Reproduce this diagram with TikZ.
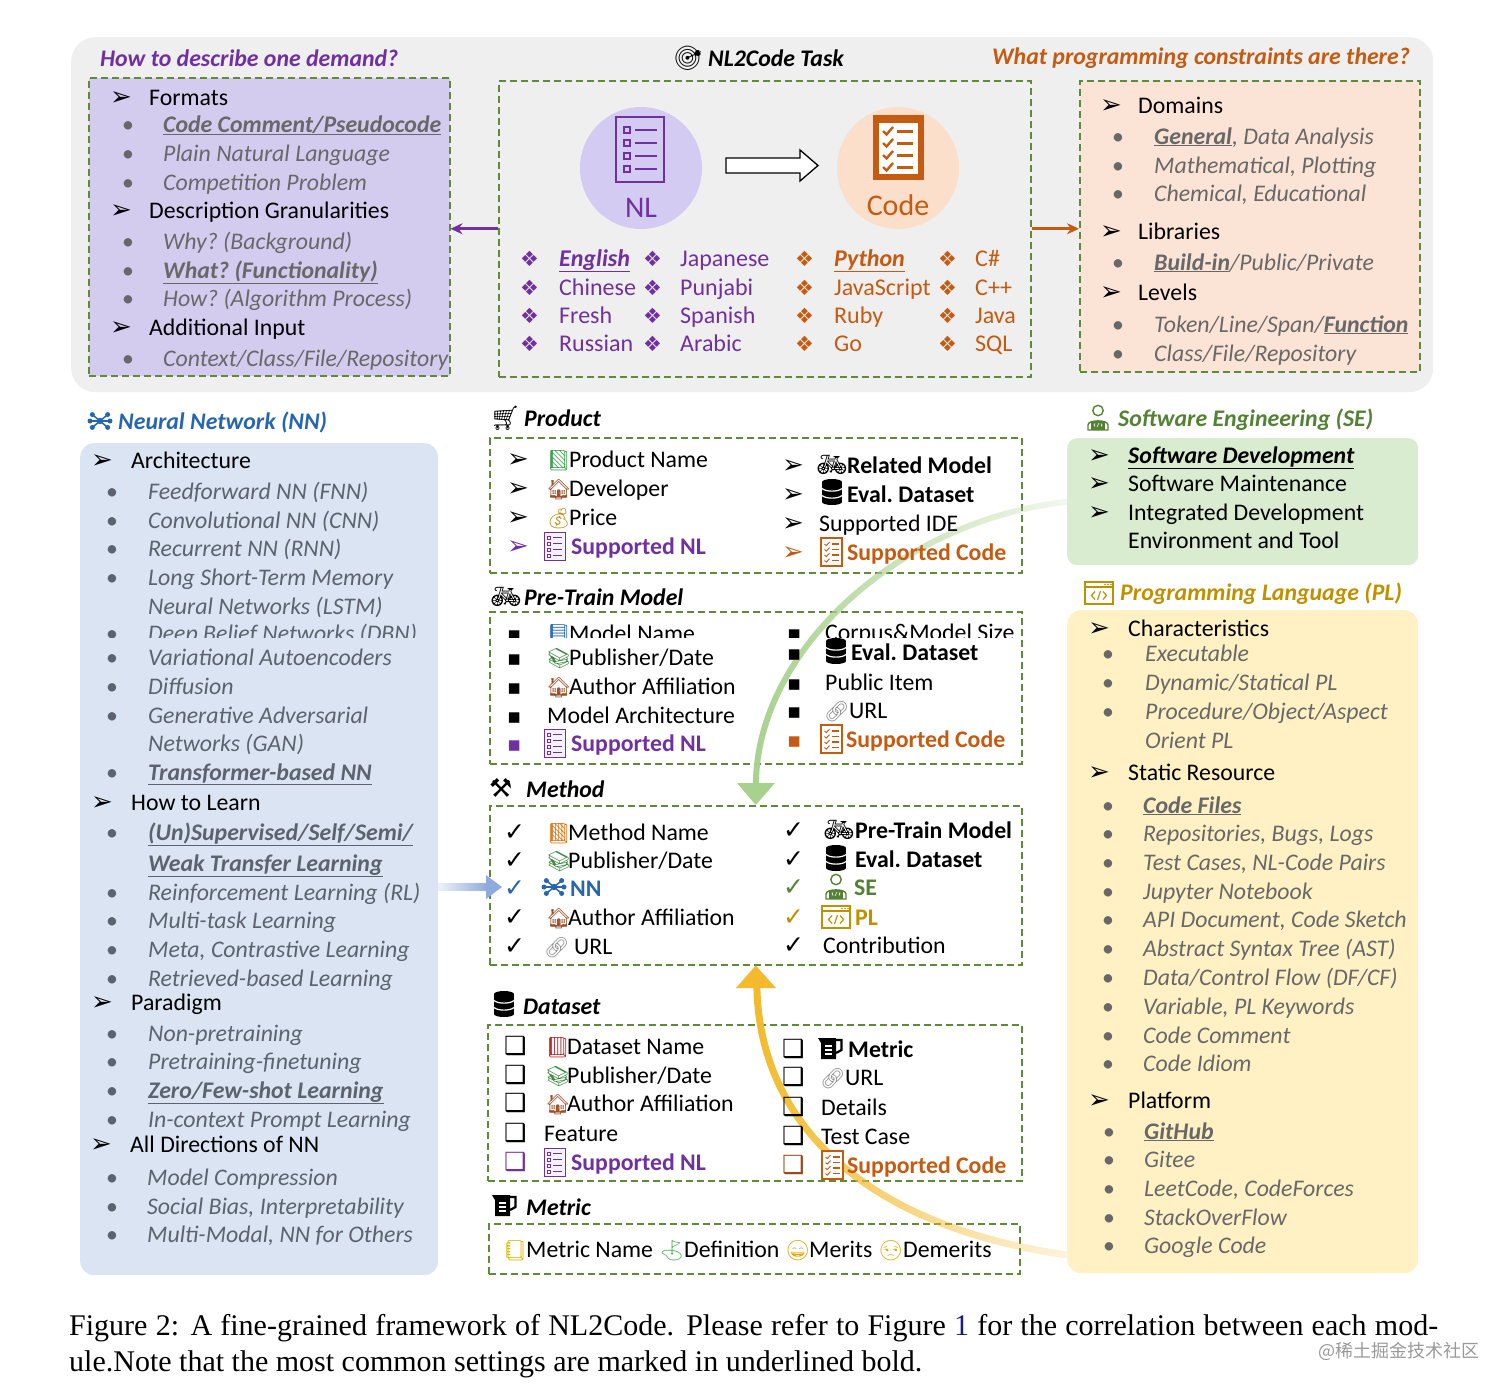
\documentclass[tikz,border=0pt]{standalone}
\usepackage{fontspec}
\setmainfont{Carlito}
\newfontfamily\dejavu{DejaVu Sans}
\newfontfamily\emo{Noto Emoji}
\newfontfamily\timesf{Liberation Serif}
\newfontfamily\cjk{Noto Sans CJK SC}
\usetikzlibrary{fadings,arrows.meta,calc}
\frenchspacing
\definecolor{bggray}{HTML}{EFEFEF}
\definecolor{purfill}{HTML}{D3CCEF}
\definecolor{orfill}{HTML}{FBE4D5}
\definecolor{nlcirc}{HTML}{D4CBF3}
\definecolor{codecirc}{HTML}{FCDFCA}
\definecolor{nnfill}{HTML}{DAE4F2}
\definecolor{sefill}{HTML}{DAECD0}
\definecolor{plfill}{HTML}{FFF1C4}
\definecolor{dashgreen}{HTML}{5E8A3A}
\definecolor{purp}{HTML}{7030A0}
\definecolor{orng}{HTML}{C55A11}
\definecolor{brownbox}{HTML}{9C4A1A}
\definecolor{nnblue}{HTML}{2566AE}
\definecolor{segreen}{HTML}{548235}
\definecolor{plgold}{HTML}{BF9000}
\definecolor{itemgray}{HTML}{686868}
\definecolor{nngray}{HTML}{5C636E}
\definecolor{arrgreen}{HTML}{A9D18E}
\definecolor{arrgold}{HTML}{F2BA2C}
\definecolor{arrblue}{HTML}{8FAADC}
\definecolor{capblue}{HTML}{1A1A80}
\definecolor{bookgreen}{HTML}{3FA34D}
\definecolor{house}{HTML}{A0522D}
\definecolor{money}{HTML}{B8901A}
\definecolor{bookblue}{HTML}{2F6DB5}
\definecolor{books}{HTML}{3D8B40}
\definecolor{bookorange}{HTML}{E07B20}
\definecolor{linkgray}{HTML}{8A8A8A}
\definecolor{bookred}{HTML}{C0282D}
\definecolor{notey}{HTML}{D9B800}
\definecolor{flag}{HTML}{4CAF50}
\definecolor{smiley}{HTML}{E0A800}
\newcommand\fs[1]{\fontsize{#1}{#1}\selectfont}
\newcommand\ub[1]{\underline{\textbf{#1}}}
\newcounter{nd}
\newcommand\Txt[4][tx]{\stepcounter{nd}\node[#1] (n\arabic{nd}) at (#2,#3+8) {#4};}
\tikzfading[name=fadeR, left color=transparent!0, right color=transparent!85]
\tikzfading[name=fadeL, left color=transparent!85, right color=transparent!0]
\tikzset{
  tx/.style={anchor=base west, inner sep=0pt, font=\fs{23.8}},
  it/.style={tx, font=\fs{23.8}\itshape, text=itemgray},
  nit/.style={tx, font=\fs{23.8}\itshape, text=nngray},
  bx/.style={tx, font=\fs{23.8}\bfseries},
  hdr/.style={tx, font=\fs{23.8}\bfseries\itshape},
  lang/.style={tx, font=\fs{24}},
  arr/.style={anchor=base west, inner sep=0pt, font=\dejavu\fs{26}},
  bul/.style={anchor=base west, inner sep=0pt, font=\fs{23.8}, text=itemgray},
  dia/.style={anchor=base west, inner sep=0pt, font=\dejavu\fs{21}},
  sq/.style={anchor=base west, inner sep=0pt, font=\dejavu\fs{21}},
  chk/.style={anchor=base west, inner sep=0pt, font=\dejavu\fs{25}},
  cb/.style={anchor=base west, inner sep=0pt, font=\dejavu\fs{25}},
  emj/.style={anchor=base west, inner sep=0pt, font=\emo\fs{20}},
  dbox/.style={draw=dashgreen, line width=1.5pt, dash pattern=on 7pt off 4pt, anchor=north west, inner sep=0pt},
  fbox/.style={anchor=north west, inner sep=0pt},
  db/.pic={
    \fill (0,3) rectangle (20,23);
    \fill (10,3) ellipse [x radius=10, y radius=3];
    \fill (10,23) ellipse [x radius=10, y radius=3];
    \draw[white,line width=1.2pt] (0,9.5) .. controls (4,13) and (16,13) .. (20,9.5);
    \draw[white,line width=1.2pt] (0,16.5) .. controls (4,20) and (16,20) .. (20,16.5);
  },
  jug/.pic={
    \fill (0,1) -- (18,1) -- (18,22) -- (3,22) -- (3,6) -- cycle;
    \draw[line width=2.2pt] (18,3) -- (23.5,3) -- (23.5,13) -- (18,16);
    \draw[white, line width=1.1pt] (7,9) -- (14,9) (7,13) -- (14,13) (7,17) -- (14,17);
  },
  nnicon/.pic={
    \foreach \a in {0,40,140,180,220,320} {
      \draw[line width=1.5pt] (13,11) -- ++(\a:10);
      \fill (13,11) ++(\a:10) circle (2.5);
    }
    \fill (13,11) circle (3.2);
  },
  seicon/.pic={
    \draw[line width=1.4pt] (12,6.5) circle (5.2);
    \draw[line width=1.4pt] (2,26) -- (2,21) .. controls (2,15.5) and (22,15.5) .. (22,21) -- (22,26) -- cycle;
    \fill (5,16.5) rectangle (19,26);
    \draw[white,line width=0.6pt] (9,19.5) -- (8,21) -- (9,22.5) (11,23) -- (13,19) (15,19.5) -- (16,21) -- (15,22.5);
  },
  plicon/.pic={
    \draw[line width=1.6pt] (0,0) rectangle (28,22);
    \draw[line width=1.2pt] (0,5) -- (28,5);
    \draw[line width=1.2pt] (10,9.5) -- (6.5,13.5) -- (10,17.5) (12.5,18) -- (15.5,9) (18,9.5) -- (21.5,13.5) -- (18,17.5);
    \fill (20,2.5) circle (0.8) (23,2.5) circle (0.8) (26,2.5) circle (0.8);
  },
  nlbig/.pic={
    \draw[line width=2.6pt] (0,0) rectangle (48,65);
    \foreach \yy in {13,26,39,52} {
      \draw[line width=1.8pt] (8,\yy-3) rectangle (14,\yy+3);
      \draw[line width=2.2pt] (19,\yy) -- (41,\yy);
    }
  },
  codebig/.pic={
    \fill (0,0) rectangle (51,65);
    \fill[white] (6,8) rectangle (45,59);
    \foreach \yy in {16,28,40,52} {
      \draw[line width=2.4pt] (10,\yy) -- (13.5,\yy+3.5) -- (20,\yy-4);
      \draw[line width=3pt] (24,\yy) -- (40,\yy);
    }
  },
  nlsm/.pic={
    \draw[line width=0.9pt, fill=white!75!nlcirc] (0,0) rectangle (21,28);
    \foreach \yy in {5.5,11.5,17.5,23.5} {
      \draw[line width=0.7pt] (3.5,\yy-1.5) rectangle (6.5,\yy+1.5);
      \draw[line width=0.8pt] (9,\yy) -- (18,\yy);
    }
  },
  codesm/.pic={
    \draw[line width=1.8pt, fill=white] (0,0) rectangle (21,28);
    \foreach \yy in {6,11.5,17,22.5} {
      \draw[line width=0.9pt] (3.5,\yy) -- (5.3,\yy+1.6) -- (8.5,\yy-1.8);
      \draw[line width=1.1pt] (10.5,\yy) -- (17.5,\yy);
    }
  },
}
\begin{document}
\begin{tikzpicture}[x=1pt,y=-1pt]
\path[use as bounding box] (0,0) rectangle (1512,1393);
% ---------- top panel ----------
\node[fbox, fill=bggray, rounded corners=24pt, minimum width=1362, minimum height=355] (bg) at (71,37) {};
\node[dbox, fill=purfill, minimum width=361, minimum height=298] (fmt) at (88,77) {};
\node[dbox, minimum width=532, minimum height=296] (task) at (498,80) {};
\node[dbox, fill=orfill, minimum width=340, minimum height=291] (cons) at (1079,80) {};
\draw[purp, line width=2.8pt, -{Stealth[length=12pt,width=11pt]}] (task.west) -- (fmt.east |- task.west);
\draw[orng, line width=2.8pt, -{Stealth[length=12pt,width=11pt]}] (task.east) -- (cons.west |- task.east);

\Txt[hdr,text=purp]{100}{58}{How to describe one demand?}
\Txt[emj,font=\emo\fs{24}]{673}{58}{🎯}
\Txt[hdr]{708}{58}{NL2Code Task}
\node[hdr, text=orng, anchor=base east] (hq2) at (1410,64) {What programming constraints are there?};

% formats box
\Txt[arr]{110}{97}{➢}\Txt{149}{97}{Formats}
\Txt[bul]{122}{124}{•}\Txt[it]{163}{124}{\ub{Code Comment/Pseudocode}}
\Txt[bul]{122}{153}{•}\Txt[it]{163}{153}{Plain Natural Language}
\Txt[bul]{122}{182}{•}\Txt[it]{163}{182}{Competition Problem}
\Txt[arr]{110}{210}{➢}\Txt{149}{210}{Description Granularities}
\Txt[bul]{122}{241}{•}\Txt[it]{163}{241}{Why? (Background)}
\Txt[bul]{122}{270}{•}\Txt[it]{163}{270}{\ub{What? (Functionality)}}
\Txt[bul]{122}{298}{•}\Txt[it]{163}{298}{How? (Algorithm Process)}
\Txt[arr]{110}{327}{➢}\Txt{149}{327}{Additional Input}
\Txt[bul]{122}{358}{•}\Txt[it]{163}{358}{Context/Class/File/Repository}

% NL2Code centre
\node[circle, fill=nlcirc, minimum size=122, inner sep=0pt] (nlc) at (641,168) {};
\node[circle, fill=codecirc, minimum size=122, inner sep=0pt] (codec) at (898,168) {};
\pic[color=purp] at (616,117) {nlbig};
\pic[color=orng] at (873,115) {codebig};
\node[anchor=base, inner sep=0pt, font=\fs{30}, text=purp] (nlt) at (641,217) {NL};
\node[anchor=base, inner sep=0pt, font=\fs{30}, text=orng] (codet) at (898,215) {Code};
\draw[line width=1.3pt, fill=white] (726,158) -- (800,158) -- (800,150) -- (818,165.5) -- (800,181) -- (800,173) -- (726,173) -- cycle;

\Txt[dia,text=purp]{520}{258}{❖}\Txt[lang,text=purp]{559}{258}{\underline{\textbf{\textit{English}}}}
\Txt[dia,text=purp]{520}{287}{❖}\Txt[lang,text=purp]{559}{287}{Chinese}
\Txt[dia,text=purp]{520}{315}{❖}\Txt[lang,text=purp]{559}{315}{Fresh}
\Txt[dia,text=purp]{520}{343}{❖}\Txt[lang,text=purp]{559}{343}{Russian}
\Txt[dia,text=purp]{643}{258}{❖}\Txt[lang,text=purp]{680}{258}{Japanese}
\Txt[dia,text=purp]{643}{287}{❖}\Txt[lang,text=purp]{680}{287}{Punjabi}
\Txt[dia,text=purp]{643}{315}{❖}\Txt[lang,text=purp]{680}{315}{Spanish}
\Txt[dia,text=purp]{643}{343}{❖}\Txt[lang,text=purp]{680}{343}{Arabic}
\Txt[dia,text=orng]{795}{258}{❖}\Txt[lang,text=orng]{834}{258}{\underline{\textbf{\textit{Python}}}}
\Txt[dia,text=orng]{795}{287}{❖}\Txt[lang,text=orng]{834}{287}{JavaScript}
\Txt[dia,text=orng]{795}{315}{❖}\Txt[lang,text=orng]{834}{315}{Ruby}
\Txt[dia,text=orng]{795}{343}{❖}\Txt[lang,text=orng]{834}{343}{Go}
\Txt[dia,text=orng]{938}{258}{❖}\Txt[lang,text=orng]{975}{258}{C\#}
\Txt[dia,text=orng]{938}{287}{❖}\Txt[lang,text=orng]{975}{287}{C++}
\Txt[dia,text=orng]{938}{315}{❖}\Txt[lang,text=orng]{975}{315}{Java}
\Txt[dia,text=orng]{938}{343}{❖}\Txt[lang,text=orng]{975}{343}{SQL}

% constraints box
\Txt[arr]{1100}{105}{➢}\Txt{1138}{105}{Domains}
\Txt[bul]{1112}{136}{•}\Txt[it]{1154}{136}{\ub{General}, Data Analysis}
\Txt[bul]{1112}{165}{•}\Txt[it]{1154}{165}{Mathematical, Plotting}
\Txt[bul]{1112}{193}{•}\Txt[it]{1154}{193}{Chemical, Educational}
\Txt[arr]{1100}{231}{➢}\Txt{1138}{231}{Libraries}
\Txt[bul]{1112}{262}{•}\Txt[it]{1154}{262}{\ub{Build-in}/Public/Private}
\Txt[arr]{1100}{292}{➢}\Txt{1138}{292}{Levels}
\Txt[bul]{1112}{324}{•}\Txt[it]{1154}{324}{Token/Line/Span/\ub{Function}}
\Txt[bul]{1112}{353}{•}\Txt[it]{1154}{353}{Class/File/Repository}

% ---------- side boxes ----------
\node[fbox, fill=nnfill, rounded corners=14pt, minimum width=358, minimum height=832] (nn) at (80,443) {};
\node[fbox, fill=sefill, rounded corners=10pt, minimum width=351, minimum height=127] (se) at (1067,438) {};
\node[fbox, fill=plfill, rounded corners=14pt, minimum width=351, minimum height=663] (pl) at (1067,610) {};

% ---------- middle boxes ----------
\node[dbox, minimum width=532, minimum height=135] (prod) at (489,437) {};
\node[dbox, minimum width=532, minimum height=152] (ptm) at (489,611) {};
\node[dbox, minimum width=532, minimum height=159] (meth) at (489,805) {};
\node[dbox, minimum width=534, minimum height=156] (dset) at (487,1024) {};
\node[dbox, minimum width=531, minimum height=50] (metr) at (488,1223) {};

% ---------- connectors ----------
\coordinate (gE) at (756,784);
\coordinate (yS) at (1067,1255);
\coordinate (yE) at (757,988);
\draw[arrgreen, line width=6pt, path fading=fadeR] (se.west) .. controls (900,520) and (757,650) .. (gE);
\fill[arrgreen] (737,783) -- (775,783) -- (meth.north) -- cycle;
\draw[arrgold, line width=7pt, path fading=fadeR] (yS) .. controls (860,1225) and (760,1120) .. (yE);
\fill[arrgold] (736,988) -- (776,988) -- (meth.south) -- cycle;
\coordinate (bS) at (438,887);
\coordinate (bE) at (488,887);
\fill[arrblue, path fading=fadeL] ($(bS)+(0,-4)$) rectangle ($(bE)+(0,4)$);
\fill[arrblue] (486,875) -- (502,887) -- (486,899) -- cycle;

% ---------- NN ----------
\pic[color=nnblue] at (87,410) {nnicon};
\Txt[hdr,text=nnblue]{118}{421}{Neural Network (NN)}
\Txt[arr]{91}{460}{➢}\Txt{131}{460}{Architecture}
\Txt[bul,text=nngray]{106}{491}{•}\Txt[nit]{148}{491}{Feedforward NN (FNN)}
\Txt[bul,text=nngray]{106}{520}{•}\Txt[nit]{148}{520}{Convolutional NN (CNN)}
\Txt[bul,text=nngray]{106}{548}{•}\Txt[nit]{148}{548}{Recurrent NN (RNN)}
\Txt[bul,text=nngray]{106}{577}{•}\Txt[nit]{148}{577}{Long Short-Term Memory}
\Txt[nit]{148}{606}{Neural Networks (LSTM)}
\begin{scope}
\clip (95,615) rectangle (440,637);
\Txt[bul,text=nngray]{106}{633}{•}\Txt[nit]{148}{633}{Deep Belief Networks (DBN)}
\end{scope}
\Txt[bul,text=nngray]{106}{657}{•}\Txt[nit]{148}{657}{Variational Autoencoders}
\Txt[bul,text=nngray]{106}{686}{•}\Txt[nit]{148}{686}{Diffusion}
\Txt[bul,text=nngray]{106}{715}{•}\Txt[nit]{148}{715}{Generative Adversarial}
\Txt[nit]{148}{743}{Networks (GAN)}
\Txt[bul,text=nngray]{106}{772}{•}\Txt[nit]{148}{772}{\ub{Transformer-based NN}}
\Txt[arr]{91}{802}{➢}\Txt{131}{802}{How to Learn}
\Txt[bul,text=nngray]{106}{832}{•}\Txt[nit]{148}{832}{\ub{(Un)Supervised/Self/Semi/}}
\Txt[nit]{148}{863}{\ub{Weak Transfer Learning}}
\Txt[bul,text=nngray]{106}{892}{•}\Txt[nit]{148}{892}{Reinforcement Learning (RL)}
\Txt[bul,text=nngray]{106}{920}{•}\Txt[nit]{148}{920}{Multi-task Learning}
\Txt[bul,text=nngray]{106}{949}{•}\Txt[nit]{148}{949}{Meta, Contrastive Learning}
\Txt[bul,text=nngray]{106}{978}{•}\Txt[nit]{148}{978}{Retrieved-based Learning}
\Txt[arr]{91}{1002}{➢}\Txt{131}{1002}{Paradigm}
\Txt[bul,text=nngray]{106}{1033}{•}\Txt[nit]{148}{1033}{Non-pretraining}
\Txt[bul,text=nngray]{106}{1061}{•}\Txt[nit]{148}{1061}{Pretraining-finetuning}
\Txt[bul,text=nngray]{106}{1090}{•}\Txt[nit]{148}{1090}{\ub{Zero/Few-shot Learning}}
\Txt[bul,text=nngray]{106}{1119}{•}\Txt[nit]{148}{1119}{In-context Prompt Learning}
\Txt[arr]{90}{1144}{➢}\Txt{130}{1144}{All Directions of NN}
\Txt[bul,text=nngray]{106}{1177}{•}\Txt[nit]{147}{1177}{Model Compression}
\Txt[bul,text=nngray]{106}{1206}{•}\Txt[nit]{147}{1206}{Social Bias, Interpretability}
\Txt[bul,text=nngray]{106}{1234}{•}\Txt[nit]{147}{1234}{Multi-Modal, NN for Others}

% ---------- SE ----------
\pic[color=segreen] at (1086,404) {seicon};
\Txt[hdr,text=segreen]{1118}{418}{Software Engineering (SE)}
\Txt[arr]{1088}{455}{➢}\Txt[hdr]{1128}{455}{\underline{Software Development}}
\Txt[arr]{1088}{483}{➢}\Txt{1128}{483}{Software Maintenance}
\Txt[arr]{1088}{512}{➢}\Txt{1128}{512}{Integrated Development}
\Txt{1128}{540}{Environment and Tool}

% ---------- PL ----------
\pic[color=plgold] at (1085,582) {plicon};
\Txt[hdr,text=plgold]{1120}{592}{Programming Language (PL)}
\Txt[arr]{1088}{628}{➢}\Txt{1128}{628}{Characteristics}
\Txt[bul]{1102}{653}{•}\Txt[it]{1145}{653}{Executable}
\Txt[bul]{1102}{682}{•}\Txt[it]{1145}{682}{Dynamic/Statical PL}
\Txt[bul]{1102}{711}{•}\Txt[it]{1145}{711}{Procedure/Object/Aspect}
\Txt[it]{1145}{740}{Orient PL}
\Txt[arr]{1088}{772}{➢}\Txt{1128}{772}{Static Resource}
\Txt[bul]{1102}{805}{•}\Txt[it]{1143}{805}{\ub{Code Files}}
\Txt[bul]{1102}{833}{•}\Txt[it]{1143}{833}{Repositories, Bugs, Logs}
\Txt[bul]{1102}{862}{•}\Txt[it]{1143}{862}{Test Cases, NL-Code Pairs}
\Txt[bul]{1102}{891}{•}\Txt[it]{1143}{891}{Jupyter Notebook}
\Txt[bul]{1102}{919}{•}\Txt[it]{1143}{919}{API Document, Code Sketch}
\Txt[bul]{1102}{948}{•}\Txt[it]{1143}{948}{Abstract Syntax Tree (AST)}
\Txt[bul]{1102}{977}{•}\Txt[it]{1143}{977}{Data/Control Flow (DF/CF)}
\Txt[bul]{1102}{1006}{•}\Txt[it]{1143}{1006}{Variable, PL Keywords}
\Txt[bul]{1102}{1035}{•}\Txt[it]{1143}{1035}{Code Comment}
\Txt[bul]{1102}{1063}{•}\Txt[it]{1143}{1063}{Code Idiom}
\Txt[arr]{1088}{1100}{➢}\Txt{1128}{1100}{Platform}
\Txt[bul]{1103}{1131}{•}\Txt[it]{1144}{1131}{\ub{GitHub}}
\Txt[bul]{1103}{1159}{•}\Txt[it]{1144}{1159}{Gitee}
\Txt[bul]{1103}{1188}{•}\Txt[it]{1144}{1188}{LeetCode, CodeForces}
\Txt[bul]{1103}{1217}{•}\Txt[it]{1144}{1217}{StackOverFlow}
\Txt[bul]{1103}{1245}{•}\Txt[it]{1144}{1245}{Google Code}

% ---------- Product ----------
\Txt[emj,font=\emo\fs{24}]{490}{418}{🛒}\Txt[hdr]{524}{418}{Product}
\Txt[arr]{507}{459}{➢}\Txt[emj,text=bookgreen]{546}{459}{📗}\Txt{569}{459}{Product Name}
\Txt[arr]{507}{488}{➢}\Txt[emj,text=house]{546}{488}{🏠}\Txt{569}{488}{Developer}
\Txt[arr]{507}{517}{➢}\Txt[emj,text=money]{546}{517}{💰}\Txt{569}{517}{Price}
\Txt[arr,text=purp]{507}{546}{➢}\pic[color=purp] at (544,532) {nlsm};\Txt[bx,text=purp]{571}{546}{Supported NL}
\Txt[arr]{782}{465}{➢}\Txt[emj,font=\emo\fs{25}]{816}{465}{🚲}\Txt[bx]{847}{465}{Related Model}
\Txt[arr]{782}{494}{➢}\pic at (822,479) {db};\Txt[bx]{847}{494}{Eval. Dataset}
\Txt[arr]{782}{523}{➢}\Txt{819}{523}{Supported IDE}
\Txt[arr,text=orng]{782}{552}{➢}\pic[color=orng] at (821,538) {codesm};\Txt[bx,text=orng]{847}{552}{Supported Code}

% ---------- Pre-Train Model ----------
\Txt[emj,font=\emo\fs{25}]{490}{597}{🚲}\Txt[hdr]{524}{597}{Pre-Train Model}
\begin{scope}
\clip (495,612) rectangle (1018,637);
\Txt[sq]{507}{633}{▪}\Txt[emj,text=bookblue]{546}{633}{📘}\Txt{569}{633}{Model Name}
\Txt[sq]{787}{632}{▪}\Txt{825}{632}{Corpus\&Model Size}
\end{scope}
\Txt[sq]{507}{657}{▪}\Txt[emj,text=books]{546}{657}{📚}\Txt{569}{657}{Publisher/Date}
\Txt[sq]{507}{686}{▪}\Txt[emj,text=house]{546}{686}{🏠}\Txt{569}{686}{Author Affiliation}
\Txt[sq]{507}{715}{▪}\Txt{547}{715}{Model Architecture}
\Txt[sq,text=purp]{507}{743}{▪}\pic[color=purp] at (544,729) {nlsm};\Txt[bx,text=purp]{571}{743}{Supported NL}
\Txt[sq]{787}{652}{▪}\pic at (826,638) {db};\Txt[bx]{851}{652}{Eval. Dataset}
\Txt[sq]{787}{682}{▪}\Txt{825}{682}{Public Item}
\Txt[sq]{787}{710}{▪}\Txt[emj,text=linkgray]{824}{710}{🔗}\Txt{849}{710}{URL}
\Txt[sq,text=orng]{787}{739}{▪}\pic[color=orng] at (821,725) {codesm};\Txt[bx,text=orng]{846}{739}{Supported Code}

% ---------- Method ----------
\Txt[dia,font=\dejavu\fs{26}]{489}{789}{⚒}\Txt[hdr]{526}{789}{Method}
\Txt[chk]{504}{832}{✓}\Txt[emj,text=bookorange]{546}{832}{📙}\Txt{568}{832}{Method Name}
\Txt[chk]{504}{860}{✓}\Txt[emj,text=books]{546}{860}{📚}\Txt{568}{860}{Publisher/Date}
\Txt[chk,text=nnblue]{504}{888}{✓}\pic[color=nnblue] at (541,876) {nnicon};\Txt[bx,text=nnblue]{570}{888}{NN}
\Txt[chk]{504}{917}{✓}\Txt[emj,text=house]{546}{917}{🏠}\Txt{568}{917}{Author Affiliation}
\Txt[chk]{504}{946}{✓}\Txt[emj,text=linkgray]{544}{946}{🔗}\Txt{574}{946}{URL}
\Txt[chk]{783}{830}{✓}\Txt[emj,font=\emo\fs{25}]{823}{830}{🚲}\Txt[bx]{855}{830}{Pre-Train Model}
\Txt[chk]{783}{859}{✓}\pic at (826,845) {db};\Txt[bx]{855}{859}{Eval. Dataset}
\Txt[chk,text=segreen]{783}{887}{✓}\pic[color=segreen] at (824,873) {seicon};\Txt[bx,text=segreen]{854}{887}{SE}
\Txt[chk,text=plgold]{783}{917}{✓}\pic[color=plgold] at (822,906) {plicon};\Txt[bx,text=plgold]{855}{917}{PL}
\Txt[chk]{783}{945}{✓}\Txt{823}{945}{Contribution}

% ---------- Dataset ----------
\pic at (494,991) {db};\Txt[hdr]{523}{1006}{Dataset}
\Txt[cb]{504}{1046}{❑}\Txt[emj,text=bookred]{545}{1046}{📕}\Txt{567}{1046}{Dataset Name}
\Txt[cb]{504}{1075}{❑}\Txt[emj,text=books]{545}{1075}{📚}\Txt{567}{1075}{Publisher/Date}
\Txt[cb]{504}{1103}{❑}\Txt[emj,text=house]{545}{1103}{🏠}\Txt{567}{1103}{Author Affiliation}
\Txt[cb]{504}{1133}{❑}\Txt{544}{1133}{Feature}
\Txt[cb,text=purp]{504}{1162}{❑}\pic[color=purp] at (544,1148) {nlsm};\Txt[bx,text=purp]{571}{1162}{Supported NL}
\Txt[cb]{782}{1049}{❑}\pic at (818,1037) {jug};\Txt[bx]{848}{1049}{Metric}
\Txt[cb]{782}{1077}{❑}\Txt[emj,text=linkgray]{820}{1077}{🔗}\Txt{845}{1077}{URL}
\Txt[cb]{782}{1107}{❑}\Txt{821}{1107}{Details}
\Txt[cb]{782}{1136}{❑}\Txt{821}{1136}{Test Case}
\Txt[cb,text=brownbox]{782}{1165}{❑}\pic[color=orng] at (822,1151) {codesm};\Txt[bx,text=orng]{847}{1165}{Supported Code}

% ---------- Metric ----------
\pic at (492,1194) {jug};\Txt[hdr]{526}{1207}{Metric}
\Txt[emj,text=notey]{502}{1249}{📒}\Txt{526}{1249}{Metric Name}
\Txt[emj,text=flag]{659}{1249}{⛳}\Txt{684}{1249}{Definition}
\Txt[emj,text=smiley]{785}{1249}{😄}\Txt{809}{1249}{Merits}
\Txt[emj,text=smiley]{878}{1249}{😒}\Txt{903}{1249}{Demerits}

% ---------- caption ----------
\node[anchor=base west, inner sep=0pt, font=\timesf\fs{30}] (cap1) at (69,1335) {\nonfrenchspacing\makebox[1369pt][s]{Figure 2: A fine-grained framework of NL2Code. Please refer to Figure \textcolor{capblue}{1} for the correlation between each mod-}};
\node[anchor=base west, inner sep=0pt, font=\timesf\fs{30}] (cap2) at (69,1371) {ule.Note that the most common settings are marked in underlined bold.};
\node[anchor=base west, inner sep=0pt, font=\cjk\fs{18}, text=black!40] (wm) at (1318,1357) {@稀土掘金技术社区};
\end{tikzpicture}
\end{document}
